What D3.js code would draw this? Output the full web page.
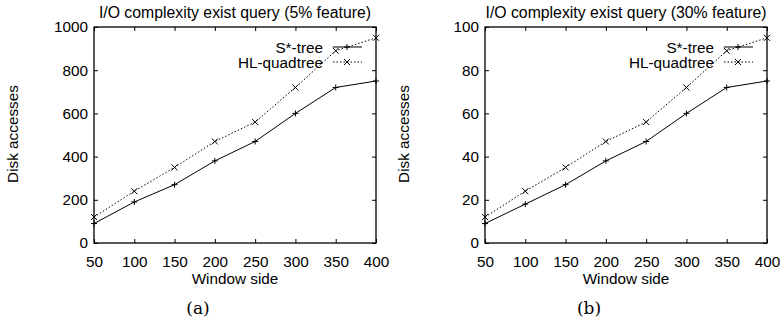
<!DOCTYPE html>
<html>
<head>
<meta charset="utf-8">
<script src="https://cdn.jsdelivr.net/npm/d3@7"></script>
<style>
body{margin:0;background:#fff;}
text{font-family:"Liberation Sans",Arial,sans-serif;}
</style>
</head>
<body>
<div id="viz"></div>
<script>
// data
var windowSide=[50,100,150,200,250,300,350,400];
var sTree5=[90,190,270,380,470,600,720,750];
var hlQuad5=[120,240,350,470,560,720,890,950];
var sTree30=[9,18,27,38,47,60,72,75];
var hlQuad30=[12,24,35,47,56,72,89,95];
var xTicks=[50,100,150,200,250,300,350,400];
var yTicks5=[0,200,400,600,800,1000];
var yTicks30=[0,20,40,60,80,100];
var seriesNames=['S*-tree','HL-quadtree'];

var width=780,height=322;
var svg=d3.select('#viz').append('svg')
    .attr('width',width)
    .attr('height',height);

function panel(opt){
    var left=opt.left,top=27,w=282,h=216;
    var g=svg.append('g').attr('transform','translate('+left+','+top+')');

    var x=d3.scaleLinear().domain([50,400]).range([0,w]);
    var y=d3.scaleLinear().domain([0,opt.yMax]).range([h,0]);

    //AXES----------------------------------------------------------------
    g.append('g')
        .attr('transform','translate(0,'+h+')')
        .call(d3.axisBottom(x).tickValues(xTicks).tickSize(-4).tickSizeOuter(0).tickPadding(13).tickFormat(d3.format('d')));
    g.append('g')
        .call(d3.axisLeft(y).tickValues(opt.yTicks).tickSize(-4).tickSizeOuter(0).tickPadding(6).tickFormat(d3.format('d')));
    g.append('g')
        .call(d3.axisTop(x).tickValues(xTicks).tickSize(-4).tickSizeOuter(0).tickFormat(''));
    g.append('g')
        .attr('transform','translate('+w+',0)')
        .call(d3.axisRight(y).tickValues(opt.yTicks).tickSize(-4).tickSizeOuter(0).tickFormat(''));
    g.selectAll('.domain').remove();
    g.selectAll('.tick line').attr('stroke','#000');
    g.selectAll('.tick text')
        .style('font-size','15.3px')
        .style('font-family','"Liberation Sans",Arial,sans-serif')
        .attr('fill','#000');

    g.append('rect')
        .attr('width',w).attr('height',h)
        .attr('fill','none').attr('stroke','#000').attr('stroke-width',1.3);

    //LINES----------------------------------------------------------------
    var line=d3.line()
        .x(function(d,i){return x(windowSide[i]);})
        .y(function(d){return y(d);});

    g.append('path').datum(opt.s)
        .attr('d',line)
        .attr('fill','none').attr('stroke','#000').attr('stroke-width',1);
    g.append('path').datum(opt.hl)
        .attr('d',line)
        .attr('fill','none').attr('stroke','#000').attr('stroke-width',1)
        .attr('stroke-dasharray','1.5,2');

    function plus(sel,cx,cy){
        sel.append('path')
            .attr('d','M'+(cx-3)+','+cy+'H'+(cx+3)+'M'+cx+','+(cy-3)+'V'+(cy+3))
            .attr('stroke','#000').attr('stroke-width',1);
    }
    function cross(sel,cx,cy){
        sel.append('path')
            .attr('d','M'+(cx-3)+','+(cy-3)+'L'+(cx+3)+','+(cy+3)+'M'+(cx-3)+','+(cy+3)+'L'+(cx+3)+','+(cy-3))
            .attr('stroke','#000').attr('stroke-width',1);
    }
    opt.s.forEach(function(d,i){plus(g,x(windowSide[i]),y(d));});
    opt.hl.forEach(function(d,i){cross(g,x(windowSide[i]),y(d));});

    //LEGEND----------------------------------------------------------------
    var lx=229,ly=[20,35];
    seriesNames.forEach(function(n,i){
        g.append('text')
            .attr('x',lx).attr('y',ly[i]+5.5)
            .attr('text-anchor','end')
            .style('font-size','15.3px')
            .text(n);
        g.append('line')
            .attr('x1',lx+10).attr('x2',lx+39)
            .attr('y1',ly[i]).attr('y2',ly[i])
            .attr('stroke','#000').attr('stroke-width',1)
            .attr('stroke-dasharray',i==1?'1.5,2':null);
        if(i==0) plus(g,lx+24,ly[i]); else cross(g,lx+24,ly[i]);
    });

    //TEXT----------------------------------------------------------------
    svg.append('text')
        .attr('x',left+w/2).attr('y',18)
        .attr('text-anchor','middle')
        .style('font-size','15.8px')
        .text(opt.title);
    svg.append('text')
        .attr('x',left+w/2).attr('y',284)
        .attr('text-anchor','middle')
        .style('font-size','15.3px')
        .text('Window side');
    svg.append('text')
        .attr('transform','translate('+(left-76)+',134) rotate(-90)')
        .attr('text-anchor','middle')
        .style('font-size','15.3px')
        .text('Disk accesses');
    svg.append('text')
        .attr('x',opt.capX).attr('y',314)
        .attr('text-anchor','middle')
        .style('font-family','"DejaVu Serif","Liberation Serif",serif')
        .style('font-size','17px')
        .text(opt.caption);
}

panel({left:94,yMax:1000,yTicks:yTicks5,s:sTree5,hl:hlQuad5,
    title:'I/O complexity exist query (5% feature)',caption:'(a)',capX:198});
panel({left:485,yMax:100,yTicks:yTicks30,s:sTree30,hl:hlQuad30,
    title:'I/O complexity exist query (30% feature)',caption:'(b)',capX:589});
</script>
</body>
</html>
